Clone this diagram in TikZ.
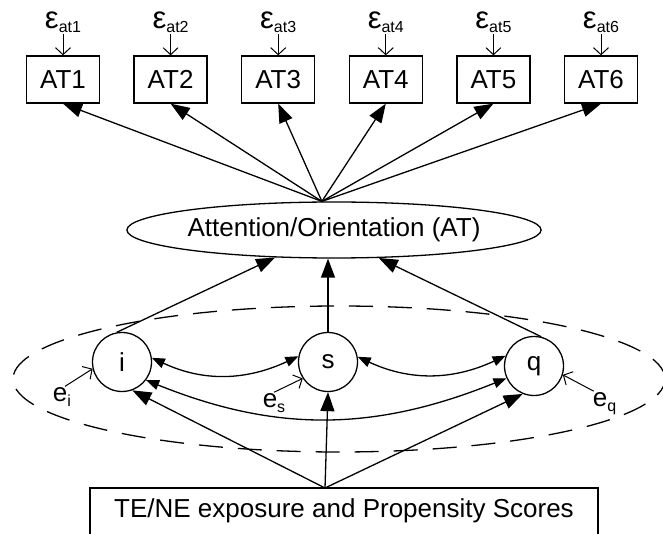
\documentclass[tikz,border=0pt]{standalone}
\usepackage{fontspec}
\setmainfont{Liberation Sans}
\usetikzlibrary{positioning,shapes.geometric,arrows.meta}

\newcommand\mainsize{\fontsize{26}{30}\selectfont}
\newcommand\epssize{\fontsize{31}{34}\selectfont}
\newcommand\lowsub[2][-4pt]{{\fontsize{16}{18}\selectfont\raisebox{#1}{#2}}}

\begin{document}
\begin{tikzpicture}[x=1pt,y=1pt,line width=1.3pt,font=\mainsize,
    obs/.style={draw, rectangle, minimum width=73, minimum height=47, inner sep=0},
    lat/.style={draw, ellipse, minimum width=358, minimum height=56, inner sep=0},
    growth/.style={draw, circle, minimum size=59, inner sep=0},
    errlbl/.style={inner sep=0, anchor=base},
    eterm/.style={inner sep=1pt},
    path/.style={-{Triangle[length=19pt,width=14pt]}},
    cov/.style={{Triangle[length=13pt,width=10pt]}-{Triangle[length=13pt,width=10pt]}},
    err/.style={-{Straight Barb[length=7pt,width=15pt]}, line width=1pt}]
    \useasboundingbox (0,0) rectangle (663,533);

    \draw[dash pattern=on 24pt off 15pt] (339,154) ellipse [x radius=326, y radius=73];

    \node[lat] at (334,303)(att) {Attention/Orientation (AT)};

    \foreach \k in {1,...,6}
    {
        \pgfmathsetmacro\xk{63+107.6*(\k-1)}
        \node[obs] at (\xk,453.5)(AT\k) {AT\k};
        \node[errlbl] at (\xk,504)(eps\k) {{\epssize ε}\lowsub{at\k}};
        \draw[err] (eps\k) -- (AT\k);
        \draw[path] (att.113) -- (AT\k.south);
    }

    \node[growth] at (122,171)(i) {i};
    \node[growth] at (328,171)(s) {s};
    \node[growth] at (534,167)(q) {q};

    \node[eterm] at (62,135.5)(ei) {e\lowsub[-5pt]{i}};
    \node[eterm] at (274,129.5)(es) {e\lowsub[-5pt]{s}};
    \node[eterm] at (604.5,129)(eq) {e\lowsub[-5pt]{q}};
    \draw[err] (ei.75) -- (i.193);
    \draw[err] (es.north) -- (s.213);
    \draw[err] (eq.130) -- (q.-17);

    \draw[cov] (i.8) to[out=-25,in=-155] (s.169);
    \draw[cov] (s.10) to[out=-25,in=-155] (q.160);
    \draw[cov] (i.-37) to[out=-22,in=-158] (q.-156);

    \draw[path] (i.100) -- (att.205);
    \draw[path] (s.north) -- (s.north |- att.south);
    \draw[path] (q.76) -- (att.-32);

    \node[obs, minimum width=508, minimum height=52, text height=19pt, text depth=13pt] at (344,19)(ps) {TE/NE exposure and Propensity Scores};
    \coordinate (src) at (325,45);
    \draw[path] (src) -- (i.-70);
    \draw[path] (src) -- (s.south);
    \draw[path] (src) -- (q.-112);

\end{tikzpicture}
\end{document}
